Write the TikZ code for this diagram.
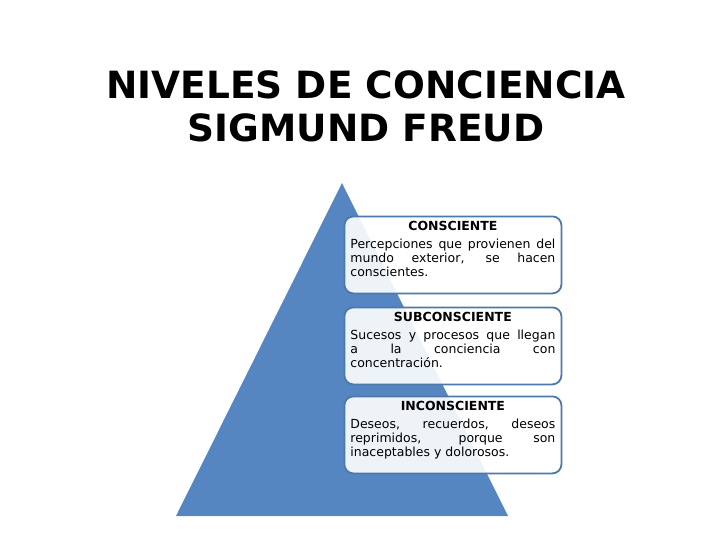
\documentclass[tikz,border=0pt]{standalone}
\usepackage{fontspec}
\setmainfont{DejaVu Sans}
\definecolor{triblue}{HTML}{5586C1}
\definecolor{boxedge}{HTML}{4C78AA}
\tikzset{
  title/.style={font=\fontsize{37.5}{43}\selectfont\bfseries, align=center},
  levelbox/.style={draw=boxedge, line width=1.8pt, rounded corners=9pt,
    fill=white, fill opacity=0.9, text opacity=1,
    inner xsep=6pt, inner ysep=0pt, anchor=north west,
    font=\fontsize{12.5}{13.8}\selectfont}
}
\newcommand{\lvlbody}[2]{\parbox[t][77pt][t]{205pt}{\vspace*{4.5pt}%
  \makebox[\linewidth]{\bfseries #1}\par\vspace{4.5pt}#2}}
\begin{document}
\begin{tikzpicture}[x=1pt,y=-1pt]
\useasboundingbox (0,0) rectangle (728,546);
\node[title] (t) at (366,106) {NIVELES DE CONCIENCIA\\SIGMUND FREUD};
\fill[triblue] (342,183) -- (508,516) -- (176,516) -- cycle;
\node[levelbox] (c) at (343.5,215.5) {\lvlbody{CONSCIENTE}{Percepciones que provienen del\linebreak mundo exterior, se hacen\linebreak conscientes.}};
\node[levelbox] (s) at (343.5,306.5) {\lvlbody{SUBCONSCIENTE}{Sucesos y procesos que llegan\linebreak a la conciencia con\linebreak concentración.}};
\node[levelbox] (i) at (343.5,395.5) {\lvlbody{INCONSCIENTE}{Deseos, recuerdos, deseos\linebreak reprimidos, porque son\linebreak inaceptables y dolorosos.}};
\end{tikzpicture}
\end{document}
